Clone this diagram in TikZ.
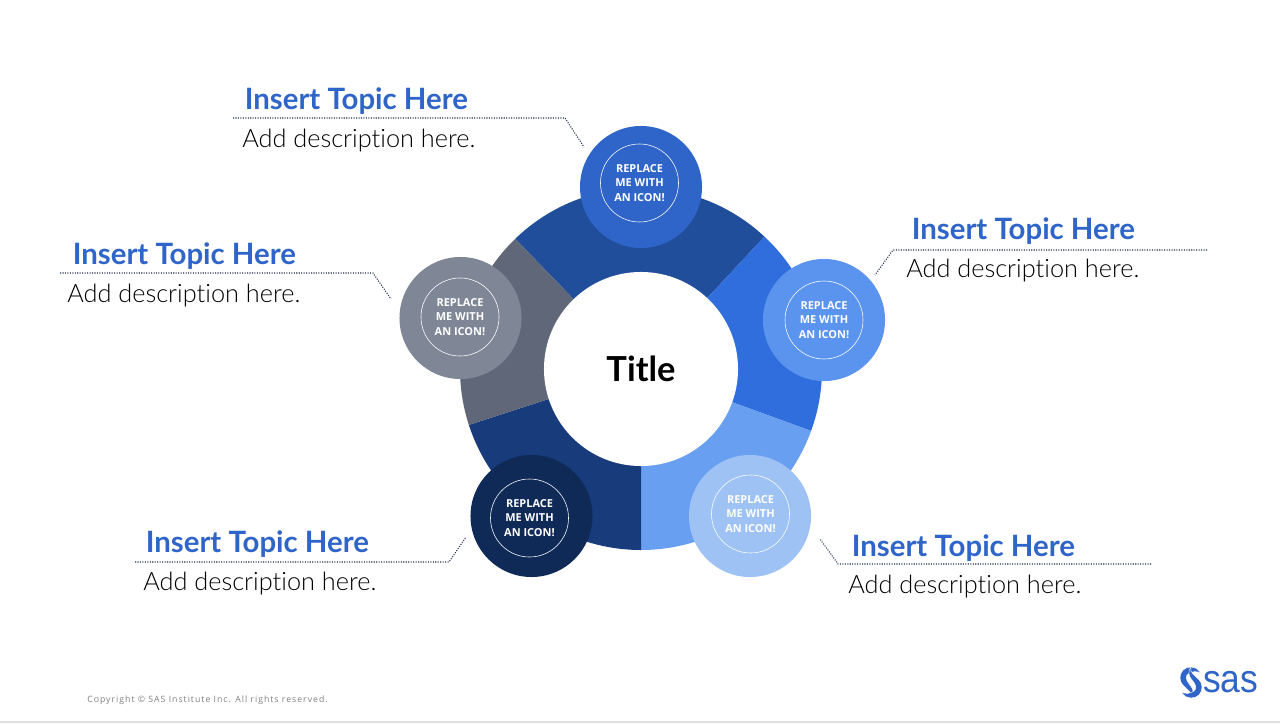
\documentclass[tikz,border=0pt]{standalone}
\usepackage{fontspec}
\setmainfont{Open Sans}
\newfontfamily\topicfont[Ligatures=NoCommon]{Lato}
\newfontfamily\descfont[Ligatures=NoCommon]{Lato Light}
\newfontfamily\logofont{Liberation Sans}
\definecolor{topicblue}{HTML}{2F65C8}
\definecolor{leadergray}{HTML}{1F2E4A}
\definecolor{segtop}{HTML}{214E9B}
\definecolor{segright}{HTML}{2F6EDC}
\definecolor{seglowright}{HTML}{699FF0}
\definecolor{seglowleft}{HTML}{173B7B}
\definecolor{segleft}{HTML}{5F6778}
\definecolor{discright}{HTML}{5B94EF}
\definecolor{disclowright}{HTML}{9FC2F5}
\definecolor{disclowleft}{HTML}{0F2A57}
\definecolor{discleft}{HTML}{7F8797}
\tikzset{
  disc/.style={circle,minimum size=3.05cm,inner sep=0pt},
  iconring/.style={circle,draw=white,line width=0.4pt,minimum size=1.95cm,inner sep=0pt,align=center,
    text=white,font=\fontsize{7.8}{10.5}\selectfont\bfseries},
  topic/.style={anchor=base west,inner sep=0pt,text=topicblue,font=\fontsize{20.9}{24}\topicfont\bfseries},
  desc/.style={anchor=base west,inner sep=0pt,text=black,font=\fontsize{18}{22}\descfont},
  leader/.style={draw=leadergray,densely dotted,line width=0.75pt},
  blade/.style={fill=topicblue,draw=white,line width=0.3pt}
}
\begin{document}
\begin{tikzpicture}[x=0.025cm,y=-0.025cm]
        \useasboundingbox (0,0) rectangle (1280,723);
        \fill[white] (0,0) rectangle (1280,723);
        \fill[black!13] (0,721) rectangle (1280,723);

        % ring
        \coordinate (hub) at (641,369);
        \fill[segtop] (hub) -- ++(-47:181) arc (-47:-134:181) -- cycle;
        \fill[segright] (hub) -- ++(20:181) arc (20:-47:181) -- cycle;
        \fill[seglowright] (hub) -- ++(90:181) arc (90:20:181) -- cycle;
        \fill[seglowleft] (hub) -- ++(162:181) arc (162:90:181) -- cycle;
        \fill[segleft] (hub) -- ++(226:181) arc (226:162:181) -- cycle;
        \node[circle,fill=white,minimum size=4.85cm,inner sep=0pt,font=\fontsize{24.5}{26}\topicfont\bfseries] (title) at (hub) {Title};

        % discs
        \node[disc,fill=topicblue] (topdisc) at (641,187) {};
        \node[disc,fill=discright] (rightdisc) at (824,320) {};
        \node[disc,fill=disclowright] (lowrightdisc) at (750,516) {};
        \node[disc,fill=disclowleft] (lowleftdisc) at (531.5,516) {};
        \node[disc,fill=discleft] (leftdisc) at (460.5,318) {};

        \node[iconring] (topring) at (639.5,183) {REPLACE\\ME WITH\\AN ICON!};
        \node[iconring] (rightring) at (824,320) {REPLACE\\ME WITH\\AN ICON!};
        \node[iconring] (lowrightring) at (750.5,514) {REPLACE\\ME WITH\\AN ICON!};
        \node[iconring] (lowleftring) at (529.5,518) {REPLACE\\ME WITH\\AN ICON!};
        \node[iconring] (leftring) at (460,317) {REPLACE\\ME WITH\\AN ICON!};

        % labels
        \node[topic] (toptopic) at (244.5,109) {Insert Topic Here};
        \node[desc] (topdesc) at (242,147) {Add description here.};
        \node[topic] (righttopic) at (911.5,239) {Insert Topic Here};
        \node[desc] (rightdesc) at (906,277) {Add description here.};
        \node[topic] (lefttopic) at (72.5,264) {Insert Topic Here};
        \node[desc] (leftdesc) at (67,302) {Add description here.};
        \node[topic] (lowlefttopic) at (145.5,552) {Insert Topic Here};
        \node[desc] (lowleftdesc) at (143,590) {Add description here.};
        \node[topic] (lowrighttopic) at (851.5,556) {Insert Topic Here};
        \node[desc] (lowrightdesc) at (848,593) {Add description here.};

        % leaders
        \coordinate (topstart) at (233,118);
        \coordinate (topbend) at (565,118);
        \coordinate (topend) at (584,147);
        \coordinate (rightstart) at (1207,250);
        \coordinate (rightbend) at (893,250);
        \coordinate (rightend) at (875,275);
        \coordinate (leftstart) at (60,273);
        \coordinate (leftbend) at (373,273);
        \coordinate (leftend) at (391,299);
        \coordinate (lowleftstart) at (135,562);
        \coordinate (lowleftbend) at (449,562);
        \coordinate (lowleftend) at (466,537);
        \coordinate (lowrightstart) at (1151,564);
        \coordinate (lowrightbend) at (838,564);
        \coordinate (lowrightend) at (820,539);
        \draw[leader] (topstart) -- (topbend) -- (topend);
        \draw[leader] (rightstart) -- (rightbend) -- (rightend);
        \draw[leader] (leftstart) -- (leftbend) -- (leftend);
        \draw[leader] (lowleftstart) -- (lowleftbend) -- (lowleftend);
        \draw[leader] (lowrightstart) -- (lowrightbend) -- (lowrightend);

        % footer
        \node[anchor=base west,inner sep=0pt,text=black!50,font=\fontsize{6.2}{8}\selectfont\addfontfeature{LetterSpace=11.5}] (copyright) at (87,702) {Copyright © SAS Institute Inc. All rights reserved.};
        \node[anchor=base west,inner sep=0pt,text=topicblue,xscale=0.9,font=\fontsize{28}{30}\logofont] (logotext) at (1203,692) {sas};
        \path[blade] (1201,673) .. controls (1197,668) and (1194,667) .. (1191,667) .. controls (1184,667) and (1180,672) .. (1180,678) .. controls (1180,684) and (1185,687) .. (1189,691) .. controls (1191,693) and (1192,695) .. (1191,698) .. controls (1194,695) and (1194,689) .. (1190,685) .. controls (1186,681) and (1185,676) .. (1188,674) .. controls (1192,671) and (1197,671) .. (1201,673) -- cycle;
        \path[blade,rotate around={180:(1191,682.5)}] (1201,673) .. controls (1197,668) and (1194,667) .. (1191,667) .. controls (1184,667) and (1180,672) .. (1180,678) .. controls (1180,684) and (1185,687) .. (1189,691) .. controls (1191,693) and (1192,695) .. (1191,698) .. controls (1194,695) and (1194,689) .. (1190,685) .. controls (1186,681) and (1185,676) .. (1188,674) .. controls (1192,671) and (1197,671) .. (1201,673) -- cycle;
      \end{tikzpicture}
\end{document}
